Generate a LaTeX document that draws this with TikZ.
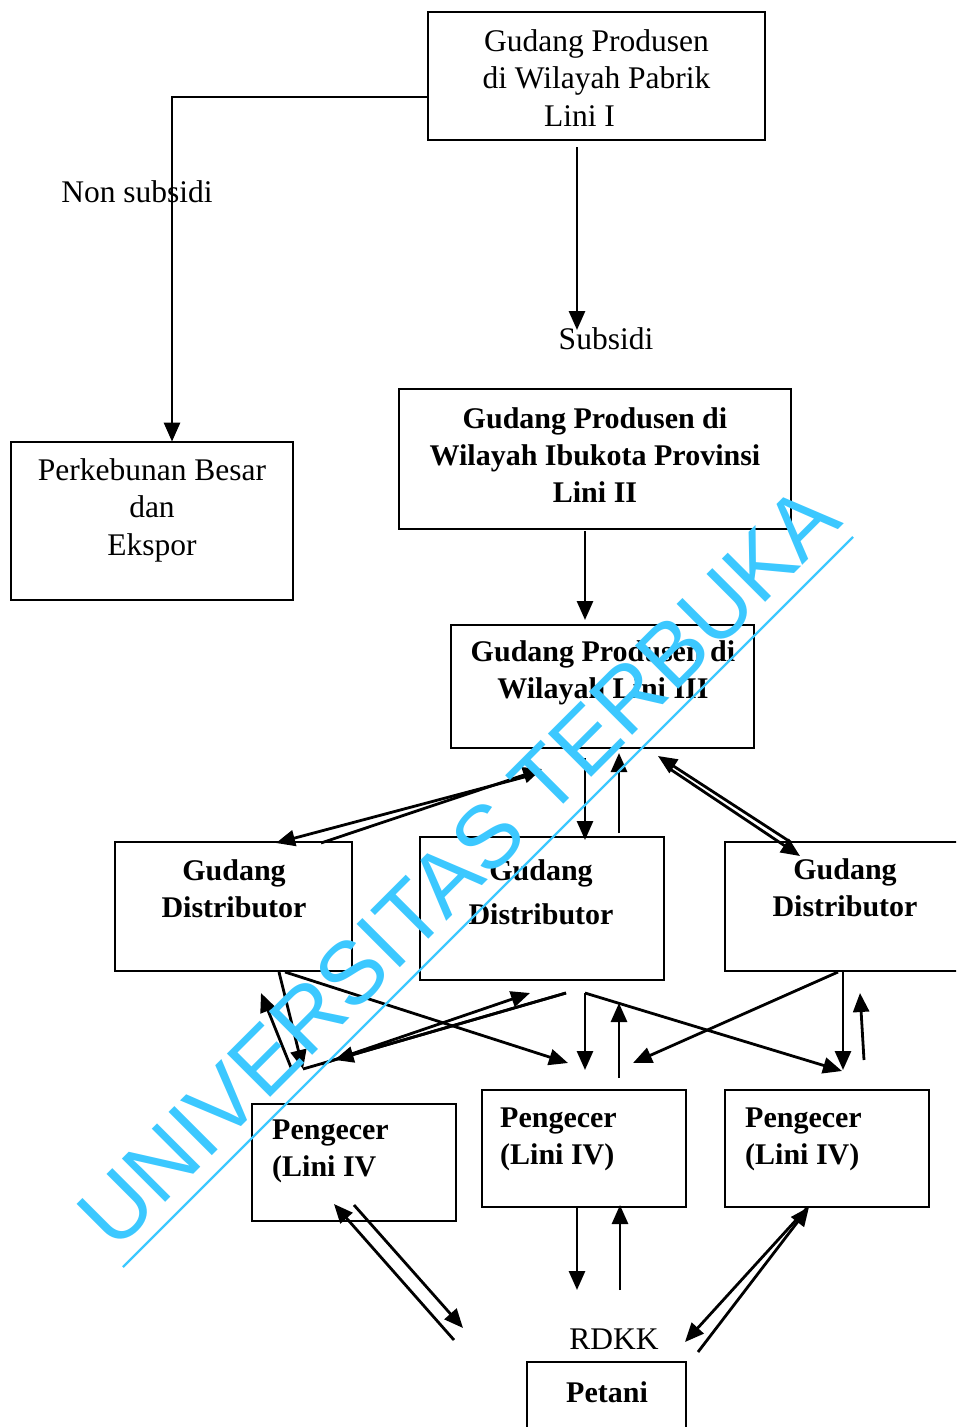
\documentclass[tikz,border=0pt]{standalone}
\usepackage{fontspec}
\setmainfont{Liberation Serif}
\newfontfamily\wmfont{Liberation Sans}
\usetikzlibrary{arrows.meta,calc}
\definecolor{wmcol}{RGB}{60,200,255}
\begin{document}
\begin{tikzpicture}[x=1pt,y=-1pt,
  box/.style={draw,line width=2.8pt,inner sep=0pt},
  txt/.style={font=\fontsize{31.5}{37.5}\selectfont,align=center,inner sep=0pt},
  btxt/.style={font=\fontsize{30}{37}\selectfont\bfseries,align=center,inner sep=0pt},
  ltxt/.style={font=\fontsize{30}{37}\selectfont\bfseries,align=left,inner sep=0pt,anchor=west},
  arr/.style={line width=2.8pt,-{Triangle[length=19pt,width=16pt]}},
  ln/.style={line width=2.8pt}]
\useasboundingbox (0,0) rectangle (956,1427);
\clip (0,0) rectangle (956,1427);

% boxes
\node[box,minimum width=337pt,minimum height=128pt] (G1) at (596.5,76) {};
\node[box,minimum width=282pt,minimum height=158pt] (PB) at (152,521) {};
\node[box,minimum width=392pt,minimum height=140pt] (G2) at (595,459) {};
\node[box,minimum width=303pt,minimum height=123pt] (G3) at (602.5,686.5) {};
\node[box,minimum width=237pt,minimum height=129pt] (D1) at (233.5,906.5) {};
\node[box,minimum width=244pt,minimum height=143pt] (D2) at (542,908.5) {};
\node[box,minimum width=245pt,minimum height=129pt] (D3) at (847.5,906.5) {};
\node[box,minimum width=204pt,minimum height=117pt] (P1) at (354,1162.5) {};
\node[box,minimum width=204pt,minimum height=117pt] (P2) at (584,1148.5) {};
\node[box,minimum width=204pt,minimum height=117pt] (P3) at (827,1148.5) {};
\node[box,minimum width=159pt,minimum height=78pt] (PT) at (606.5,1401) {};

% texts
\node[txt] (tG1) at (596.5,78) {Gudang Produsen\\di Wilayah Pabrik\\\mbox{Lini I\hspace{34pt}}};
\node[txt] (tPB) at (152,510) {Perkebunan Besar\\dan\\Ekspor};
\node[txt] (tNS) at (137,192) {Non subsidi};
\node[txt] (tS) at (606,339) {Subsidi};
\node[txt] (tR) at (614,1339) {RDKK};
\node[btxt] (tG2) at (595,455) {Gudang Produsen di\\Wilayah Ibukota Provinsi\\Lini II};
\node[btxt] (tG3) at (603,673) {Gudang Produsen di\\Wilayah Lini III};
\node[btxt] (tD1) at (234,889) {Gudang\\Distributor};
\node[btxt,font=\fontsize{30}{44}\selectfont\bfseries] (tD2) at (541,892) {Gudang\\Distributor};
\node[btxt] (tD3) at (845,888) {Gudang\\Distributor};
\node[ltxt] (tP1) at (272,1151) {Pengecer\\(Lini IV};
\node[ltxt] (tP2) at (500,1139) {Pengecer\\(Lini IV)};
\node[ltxt] (tP3) at (745,1139) {Pengecer\\(Lini IV)};
\node[btxt] (tPT) at (607,1392) {Petani};

% connector end points
\coordinate (g1w) at (428,97);
\coordinate (k1) at (172,97);
\coordinate (g1s) at (577,147);
\coordinate (sub) at (577,330);
\coordinate (g2s) at (585,531);
\coordinate (g3n) at (585,620);
\coordinate (a4s) at (532,775);
\coordinate (a4e) at (276,843);
\coordinate (a5s) at (321,843);
\coordinate (a5e) at (542,769);
\coordinate (a6s) at (585,758);
\coordinate (a6e) at (585,840);
\coordinate (a7s) at (619,833);
\coordinate (a7e) at (619,753);
\coordinate (a8s) at (792,843);
\coordinate (a8e) at (658,756);
\coordinate (a9s) at (667,767);
\coordinate (a9e) at (800,856);
\coordinate (b1s) at (279,972);
\coordinate (vb) at (303,1069);
\coordinate (b2s) at (566,993);
\coordinate (b3s) at (292,1070);
\coordinate (b3e) at (261,993);
\coordinate (b4s) at (322,1064);
\coordinate (b4e) at (530,993);
\coordinate (b5s) at (285,972);
\coordinate (b5e) at (568,1063);
\coordinate (b6s) at (585,993);
\coordinate (b6e) at (585,1070);
\coordinate (b7e) at (842,1071);
\coordinate (b8s) at (619,1078);
\coordinate (b8e) at (619,1003);
\coordinate (b9s) at (838,972);
\coordinate (b9e) at (633,1063);
\coordinate (b10s) at (843,972);
\coordinate (b10e) at (843,1070);
\coordinate (b11s) at (864,1060);
\coordinate (b11e) at (860,993);
\coordinate (c1s) at (454,1340);
\coordinate (c1e) at (334,1204);
\coordinate (c2s) at (354,1205);
\coordinate (c2e) at (463,1328);
\coordinate (c3s) at (577,1208);
\coordinate (c3e) at (577,1290);
\coordinate (c4s) at (620,1290);
\coordinate (c4e) at (620,1205);
\coordinate (c5s) at (807,1208);
\coordinate (c5e) at (685,1342);
\coordinate (c6s) at (698,1352);
\coordinate (c6e) at (809,1207);

% connectors
\draw[arr] (g1w) -- (k1) -- ([yshift=-1pt]PB.north -| k1);
\draw[arr] (g1s) -- (sub);
\draw[arr] (g2s) -- (g3n);
\draw[arr] (a4s) -- (a4e);
\draw[arr] (a5s) -- (a5e);
\draw[arr] (a6s) -- (a6e);
\draw[arr] (a7s) -- (a7e);
\draw[arr] (a8s) -- (a8e);
\draw[arr] (a9s) -- (a9e);
\draw[arr] (b1s) -- (vb);
\draw[ln] (b2s) -- (vb);
\draw[arr] (b2s) -- ($(b2s)!0.88!(vb)$);
\draw[arr] (b3s) -- (b3e);
\draw[arr] (b4s) -- (b4e);
\draw[arr] (b5s) -- (b5e);
\draw[arr] (b6s) -- (b6e);
\draw[arr] (b6s) -- (b7e);
\draw[arr] (b8s) -- (b8e);
\draw[arr] (b9s) -- (b9e);
\draw[arr] (b10s) -- (b10e);
\draw[arr] (b11s) -- (b11e);
\draw[arr] (c1s) -- (c1e);
\draw[arr] (c2s) -- (c2e);
\draw[arr] (c3s) -- (c3e);
\draw[arr] (c4s) -- (c4e);
\draw[arr] (c5s) -- (c5e);
\draw[arr] (c6s) -- (c6e);

% watermark
\node[rotate=45,anchor=base,inner sep=0pt,text=wmcol,font=\wmfont\fontsize{89}{89}\selectfont] (wm) at (480,888) {UNIVERSITAS TERBUKA};
\coordinate (wmA) at (123,1267);
\coordinate (wmB) at (853,537);
\draw[wmcol,line width=2.2pt] (wmA) -- (wmB);
\end{tikzpicture}
\end{document}
